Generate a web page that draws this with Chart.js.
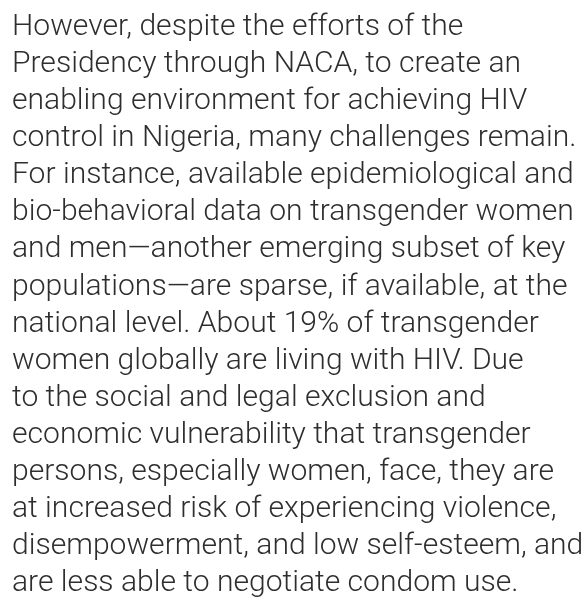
<!DOCTYPE html>
<html>
<head>
<meta charset="utf-8">
<script src="https://cdn.jsdelivr.net/npm/chart.js@4/dist/chart.umd.min.js"></script>
<style>
  html, body { margin: 0; padding: 0; background: #ffffff; }
  #wrap { position: relative; width: 586px; height: 597px; }
</style>
</head>
<body>
<div id="wrap"><canvas id="c"></canvas></div>
<script>
const textLines = [
  "However, despite the efforts of the",
  "Presidency through NACA, to create an",
  "enabling environment for achieving HIV",
  "control in Nigeria, many challenges remain.",
  "For instance, available epidemiological and",
  "bio-behavioral data on transgender women",
  "and men\u2014another emerging subset of key",
  "populations\u2014are sparse, if available, at the",
  "national level. About 19% of transgender",
  "women globally are living with HIV. Due",
  "to the social and legal exclusion and",
  "economic vulnerability that transgender",
  "persons, especially women, face, they are",
  "at increased risk of experiencing violence,",
  "disempowerment, and low self-esteem, and",
  "are less able to negotiate condom use."
];
const categories = [];
const seriesValues = [];

new Chart(document.getElementById('c'), {
  type: 'bar',
  data: { labels: categories, datasets: [{ data: seriesValues }] },
  options: {
    responsive: true,
    maintainAspectRatio: false,
    animation: false,
    layout: { padding: { left: 12, right: 0, top: 0, bottom: 0 } },
    scales: { x: { display: false }, y: { display: false } },
    plugins: {
      legend: { display: false },
      tooltip: { enabled: false },
      title: {
        display: true,
        text: textLines,
        align: 'start',
        color: '#2e2e2e',
        padding: { top: 9, bottom: 0 },
        font: { family: 'Roboto', size: 30.07, weight: '300', lineHeight: '37.07px' }
      }
    }
  }
});
</script>
</body>
</html>
